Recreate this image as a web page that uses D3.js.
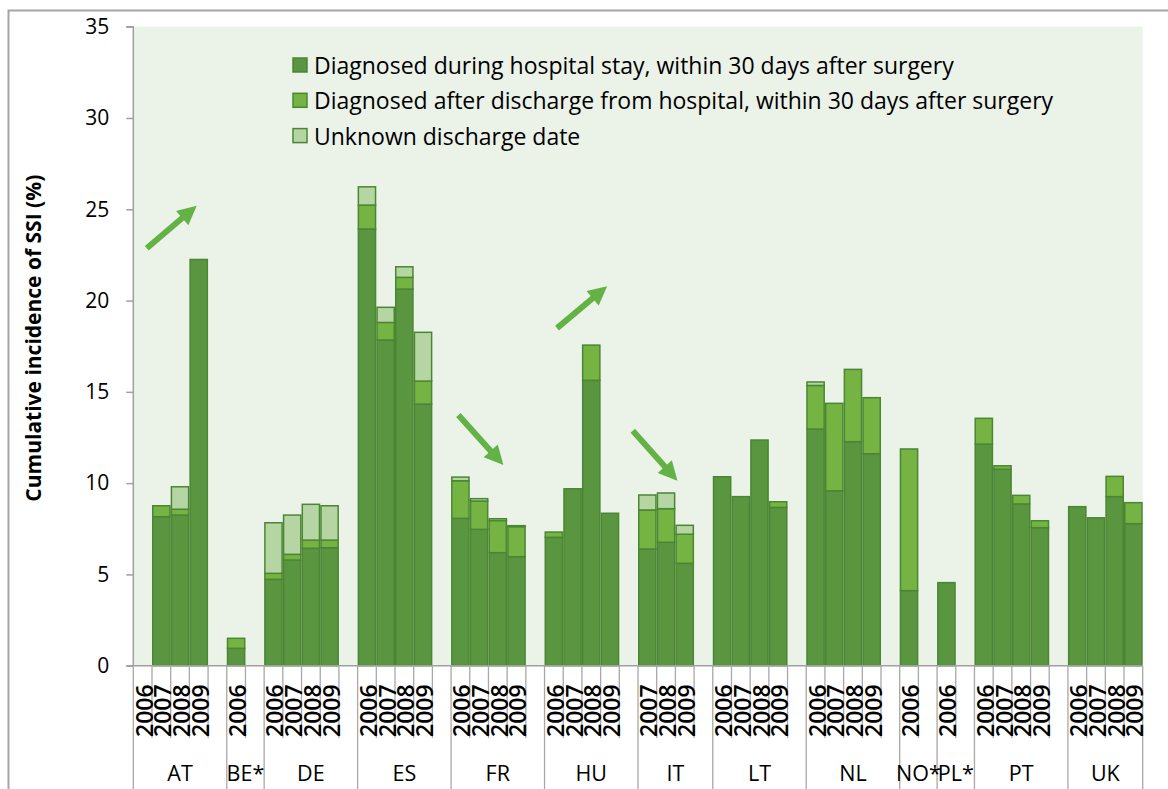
<!DOCTYPE html>
<html>
<head>
<meta charset="utf-8">
<script src="https://cdn.jsdelivr.net/npm/d3@7"></script>
<style>
  html, body { margin: 0; padding: 0; background: #ffffff; }
  svg { display: block; font-family: "Open Sans", "Noto Sans", sans-serif; }
</style>
</head>
<body>
<svg id="chart" width="1168" height="789"></svg>
<script>
// ---------------- DATA ----------------
const countries = ["AT", "BE*", "DE", "ES", "FR", "HU", "IT", "LT", "NL", "NO*", "PL*", "PT", "UK"];
const countryYears = [
  ["2006", "2007", "2008", "2009"],
  ["2006"],
  ["2006", "2007", "2008", "2009"],
  ["2006", "2007", "2008", "2009"],
  ["2006", "2007", "2008", "2009"],
  ["2006", "2007", "2008", "2009"],
  ["2007", "2008", "2009"],
  ["2006", "2007", "2008", "2009"],
  ["2006", "2007", "2008", "2009"],
  ["2006"],
  ["2006"],
  ["2006", "2007", "2008", "2009"],
  ["2006", "2007", "2008", "2009"]
];
const seriesNames = [
  "Diagnosed during hospital stay, within 30 days after surgery",
  "Diagnosed after discharge from hospital, within 30 days after surgery",
  "Unknown discharge date"
];
// values per bar, in the order of countryYears (null = no data)
const duringStay = [
  null, 8.16, 8.25, 22.25,
  0.95,
  4.73, 5.79, 6.43, 6.46,
  23.92, 17.84, 20.63, 14.33,
  8.07, 7.47, 6.19, 5.97,
  7.03, 9.69, 15.63, 8.35,
  6.39, 6.76, 5.61,
  10.35, 9.26, 12.36, 8.67,
  12.96, 9.58, 12.27, 11.61,
  4.11,
  4.55,
  12.14, 10.76, 8.86, 7.56,
  8.71, 8.10, 9.26, 7.78
];
const afterDischarge = [
  null, 0.60, 0.32, 0,
  0.55,
  0.33, 0.31, 0.45, 0.42,
  1.31, 0.96, 0.64, 1.26,
  2.06, 1.55, 1.76, 1.65,
  0.29, 0, 1.93, 0,
  2.14, 1.84, 1.59,
  0, 0, 0, 0.31,
  2.39, 4.79, 3.96, 3.07,
  7.76,
  0,
  1.41, 0.19, 0.47, 0.38,
  0, 0, 1.11, 1.15
];
const unknownDate = [
  null, 0, 1.23, 0,
  0,
  2.77, 2.15, 1.96, 1.88,
  1.00, 0.83, 0.58, 2.67,
  0.20, 0.13, 0.10, 0.05,
  0, 0, 0, 0,
  0.82, 0.86, 0.49,
  0, 0, 0, 0,
  0.19, 0, 0, 0,
  0,
  0,
  0, 0, 0, 0,
  0, 0, 0, 0
];
const yTicks = [0, 5, 10, 15, 20, 25, 30, 35];
const yTitle = "Cumulative incidence of SSI (%)";
// trend arrows: [fromSlot, fromValue, toSlot, toValue] in data units (slot index, %)
const arrowsData = [
  [0.72, 22.86, 3.39, 25.19],   // AT
  [17.39, 13.73, 19.80, 10.99], // FR
  [22.67, 18.49, 25.35, 20.79], // HU
  [26.72, 12.87, 29.11, 10.13]  // IT
];

// ---------------- LAYOUT ----------------
const colors = ["#5a963f", "#75b442", "#b5d6a3"];
const strokeCol = "#4b8634";
const margin = { left: 133.3, right: 1142.7, top: 26.7, bottom: 665.7 };

// build slot list: each country's years, followed by a blank slot (except last)
const slots = [];
const bars = [];
let k = 0;
countries.forEach((c, ci) => {
  countryYears[ci].forEach(y => {
    const id = c + "|" + y;
    slots.push({ id, country: c, year: y, blank: false, ci });
    bars.push({ id, country: c, year: y,
      vals: [duringStay[k], afterDischarge[k], unknownDate[k]] });
    k++;
  });
  if (ci < countries.length - 1) slots.push({ id: c + "|blank", country: c, year: "", blank: true, ci });
});

const svg = d3.select("#chart");

// outer chart frame
svg.append("rect").attr("x", 8.5).attr("y", 10.5).attr("width", 1200).attr("height", 800)
  .attr("fill", "#ffffff").attr("stroke", "#a5a5a5").attr("stroke-width", 2);

const x = d3.scaleBand().domain(slots.map(s => s.id)).range([margin.left, margin.right]).padding(0);
const xs = d3.scaleLinear().domain([0, slots.length]).range([margin.left, margin.right]);
const y = d3.scaleLinear().domain([0, 35]).range([margin.bottom, margin.top]);

// plot background
svg.append("rect").attr("x", margin.left).attr("y", margin.top)
  .attr("width", margin.right - margin.left).attr("height", margin.bottom - margin.top)
  .attr("fill", "#ebf2e8");

// bars
const segs = [];
bars.forEach(b => {
  let base = 0;
  b.vals.forEach((v, si) => {
    if (v != null && v > 0) {
      segs.push({ id: b.id, y0: base, y1: base + v, si });
      base += v;
    }
  });
});
svg.append("g").selectAll("rect").data(segs).join("rect")
  .attr("x", d => x(d.id) + 0.75)
  .attr("width", x.bandwidth() - 1.5)
  .attr("y", d => y(d.y1))
  .attr("height", d => y(d.y0) - y(d.y1))
  .attr("fill", d => colors[d.si])
  .attr("stroke", strokeCol)
  .attr("stroke-width", 1.5);

// y axis
const yAxis = d3.axisLeft(y).tickValues(yTicks).tickSize(7).tickPadding(17).tickFormat(d3.format("d"));
const gy = svg.append("g").attr("transform", `translate(${margin.left},0)`).call(yAxis);
gy.select(".domain").attr("stroke", "#a0a0a0").attr("stroke-width", 1.5).attr("d", `M-7,${margin.top}H0V${margin.bottom}`);
gy.selectAll(".tick line").attr("stroke", "#a0a0a0").attr("stroke-width", 1.5);
gy.selectAll(".tick text").attr("font-size", 21).attr("fill", "#000")
  .attr("font-family", "'Open Sans', sans-serif");

// x axis baseline
svg.append("line").attr("x1", margin.left - 7).attr("x2", margin.right)
  .attr("y1", margin.bottom).attr("y2", margin.bottom)
  .attr("stroke", "#a0a0a0").attr("stroke-width", 1.5);

// category label lines
const yearRowBottom = 738;
const gl = svg.append("g").attr("stroke", "#a8a8a8").attr("stroke-width", 1.3);
slots.forEach((s, i) => {
  const isGroupStart = (i === 0) || (slots[i - 1].country !== s.country);
  gl.append("line").attr("x1", x(s.id)).attr("x2", x(s.id))
    .attr("y1", margin.bottom).attr("y2", isGroupStart ? 789 : yearRowBottom);
});
gl.append("line").attr("x1", margin.right).attr("x2", margin.right)
  .attr("y1", margin.bottom).attr("y2", 789);

// year labels
svg.append("g").selectAll("text").data(slots.filter(s => !s.blank)).join("text")
  .attr("transform", d => `translate(${x(d.id) + x.bandwidth() / 2 + 1},${yearRowBottom - 1}) rotate(-90)`)
  .attr("text-anchor", "start").attr("dominant-baseline", "central")
  .attr("font-size", 23).attr("font-weight", 600).attr("fill", "#000")
  .text(d => d.year);

// country labels
svg.append("g").selectAll("text").data(countries).join("text")
  .attr("x", (c) => {
    const ss = slots.filter(s => s.country === c);
    const x0 = x(ss[0].id);
    const x1 = x(ss[ss.length - 1].id) + x.bandwidth();
    return (x0 + x1) / 2;
  })
  .attr("y", 781).attr("text-anchor", "middle")
  .attr("font-size", 21.5).attr("fill", "#000")
  .text(d => d);

// y title
svg.append("text")
  .attr("transform", `translate(33,${(margin.top + margin.bottom) / 2 - 8}) rotate(-90)`)
  .attr("text-anchor", "middle").attr("dominant-baseline", "central")
  .attr("font-size", 21).attr("font-weight", 700).attr("fill", "#000")
  .text(yTitle);

// legend
const lg = svg.append("g");
seriesNames.forEach((n, i) => {
  const cy = 65 + i * 35.3;
  lg.append("rect").attr("x", 293).attr("y", cy - 7).attr("width", 14).attr("height", 14)
    .attr("fill", colors[i]).attr("stroke", strokeCol).attr("stroke-width", 1.5);
  lg.append("text").attr("x", 314).attr("y", cy).attr("dominant-baseline", "central")
    .attr("font-size", 23).attr("fill", "#000").text(n);
});

// arrows
const arrowCol = "#63b245";
arrowsData.forEach(a => {
  const x1 = xs(a[0]), y1 = y(a[1]), x2 = xs(a[2]), y2 = y(a[3]);
  const ang = Math.atan2(y2 - y1, x2 - x1);
  const hl = 19, hw = 9.5;
  const bx = x2 - hl * Math.cos(ang), by = y2 - hl * Math.sin(ang);
  svg.append("line").attr("x1", x1).attr("y1", y1).attr("x2", bx + 2 * Math.cos(ang)).attr("y2", by + 2 * Math.sin(ang))
    .attr("stroke", arrowCol).attr("stroke-width", 6).attr("stroke-linecap", "butt");
  const px = -Math.sin(ang), py = Math.cos(ang);
  svg.append("path")
    .attr("d", `M${x2},${y2}L${bx + px * hw},${by + py * hw}L${bx - px * hw},${by - py * hw}Z`)
    .attr("fill", arrowCol);
});
</script>
</body>
</html>
